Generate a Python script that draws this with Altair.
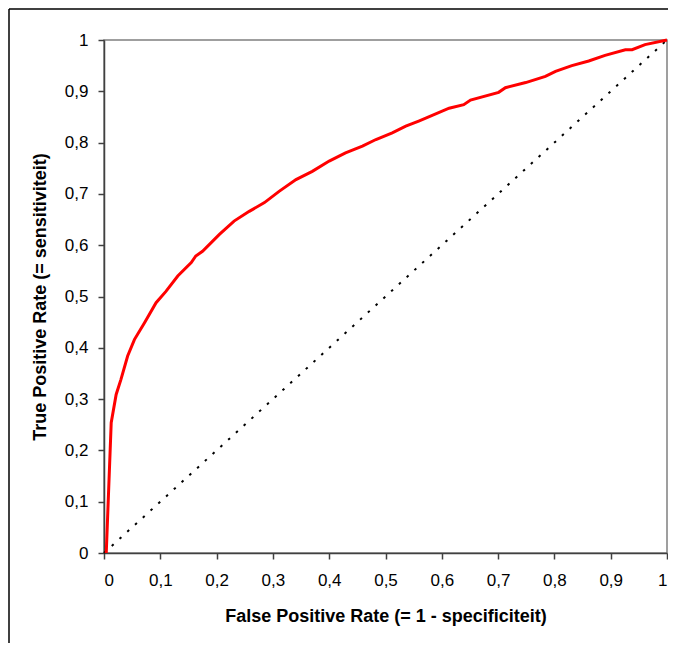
import altair as alt
import pandas as pd

# ROC curve
fpr = [0.004, 0.0128, 0.0216, 0.030, 0.042, 0.054, 0.072, 0.0925, 0.110, 0.131,
       0.155, 0.163, 0.175, 0.205, 0.231, 0.258, 0.285, 0.311, 0.341, 0.370,
       0.400, 0.429, 0.459, 0.483, 0.512, 0.536, 0.559, 0.583, 0.613, 0.639,
       0.651, 0.701, 0.713, 0.749, 0.784, 0.802, 0.831, 0.861, 0.890, 0.926,
       0.938, 0.961, 1.0]
tpr = [0.0, 0.254, 0.309, 0.338, 0.384, 0.416, 0.449, 0.488, 0.510, 0.540,
       0.566, 0.579, 0.588, 0.621, 0.647, 0.666, 0.683, 0.705, 0.728, 0.744,
       0.764, 0.780, 0.793, 0.806, 0.819, 0.832, 0.842, 0.853, 0.867, 0.874,
       0.883, 0.898, 0.907, 0.917, 0.929, 0.939, 0.950, 0.959, 0.970, 0.981,
       0.981, 0.991, 1.0]

diag_x = [0.0, 1.0]
diag_y = [0.0, 1.0]

tick_values = [0, 0.1, 0.2, 0.3, 0.4, 0.5, 0.6, 0.7, 0.8, 0.9, 1]

x_title = "False Positive Rate (= 1 - specificiteit)"
y_title = "True Positive Rate (= sensitiviteit)"

roc_df = pd.DataFrame({"fpr": fpr, "tpr": tpr})
diag_df = pd.DataFrame({"fpr": diag_x, "tpr": diag_y})

label_expr = "replace(format(datum.value, '.1~f'), '.', ',')"

x_enc = alt.X(
    "fpr:Q",
    scale=alt.Scale(domain=[0, 1], nice=False),
    axis=alt.Axis(values=tick_values, labelExpr=label_expr, title=x_title, grid=False),
)
y_enc = alt.Y(
    "tpr:Q",
    scale=alt.Scale(domain=[0, 1], nice=False),
    axis=alt.Axis(values=tick_values, labelExpr=label_expr, title=y_title, grid=False),
)

diag = alt.Chart(diag_df).mark_line(
    color="black", strokeWidth=2, strokeDash=[2.5, 8]
).encode(x=x_enc, y=y_enc)

roc = alt.Chart(roc_df).mark_line(color="#FF0000", strokeWidth=3).encode(
    x="fpr:Q", y="tpr:Q"
)

frame_data = alt.Data(values=[{}])
frame_left = alt.Chart(frame_data).mark_rule(color="black", strokeWidth=1.5).encode(
    x=alt.value(-95), y=alt.value(-31), y2=alt.value(700)
)
frame_top = alt.Chart(frame_data).mark_rule(color="black", strokeWidth=1.5).encode(
    x=alt.value(-95), x2=alt.value(700), y=alt.value(-31)
)

chart = (
    alt.layer(frame_left, frame_top, diag, roc)
    .properties(
        width=563,
        height=513,
        autosize=alt.AutoSizeParams(type="none"),
        padding={"left": 96, "top": 32, "right": 1, "bottom": 90},
        background="white",
    )
    .configure_view(stroke="#808080", strokeWidth=1.5)
    .configure_axis(
        domainColor="#404040",
        domainWidth=1.5,
        tickColor="#404040",
        tickWidth=1.5,
        tickSize=6,
        labelFont="Liberation Sans",
        labelFontSize=17,
        labelColor="black",
        titleFont="Liberation Sans",
        titleFontSize=18,
        titleFontWeight="bold",
        titleColor="black",
    )
    .configure_axisX(labelPadding=13, titlePadding=19)
    .configure_axisY(labelPadding=10, titlePadding=15)
)

chart.save("out.html", embed_options={"renderer": "svg", "actions": False})
